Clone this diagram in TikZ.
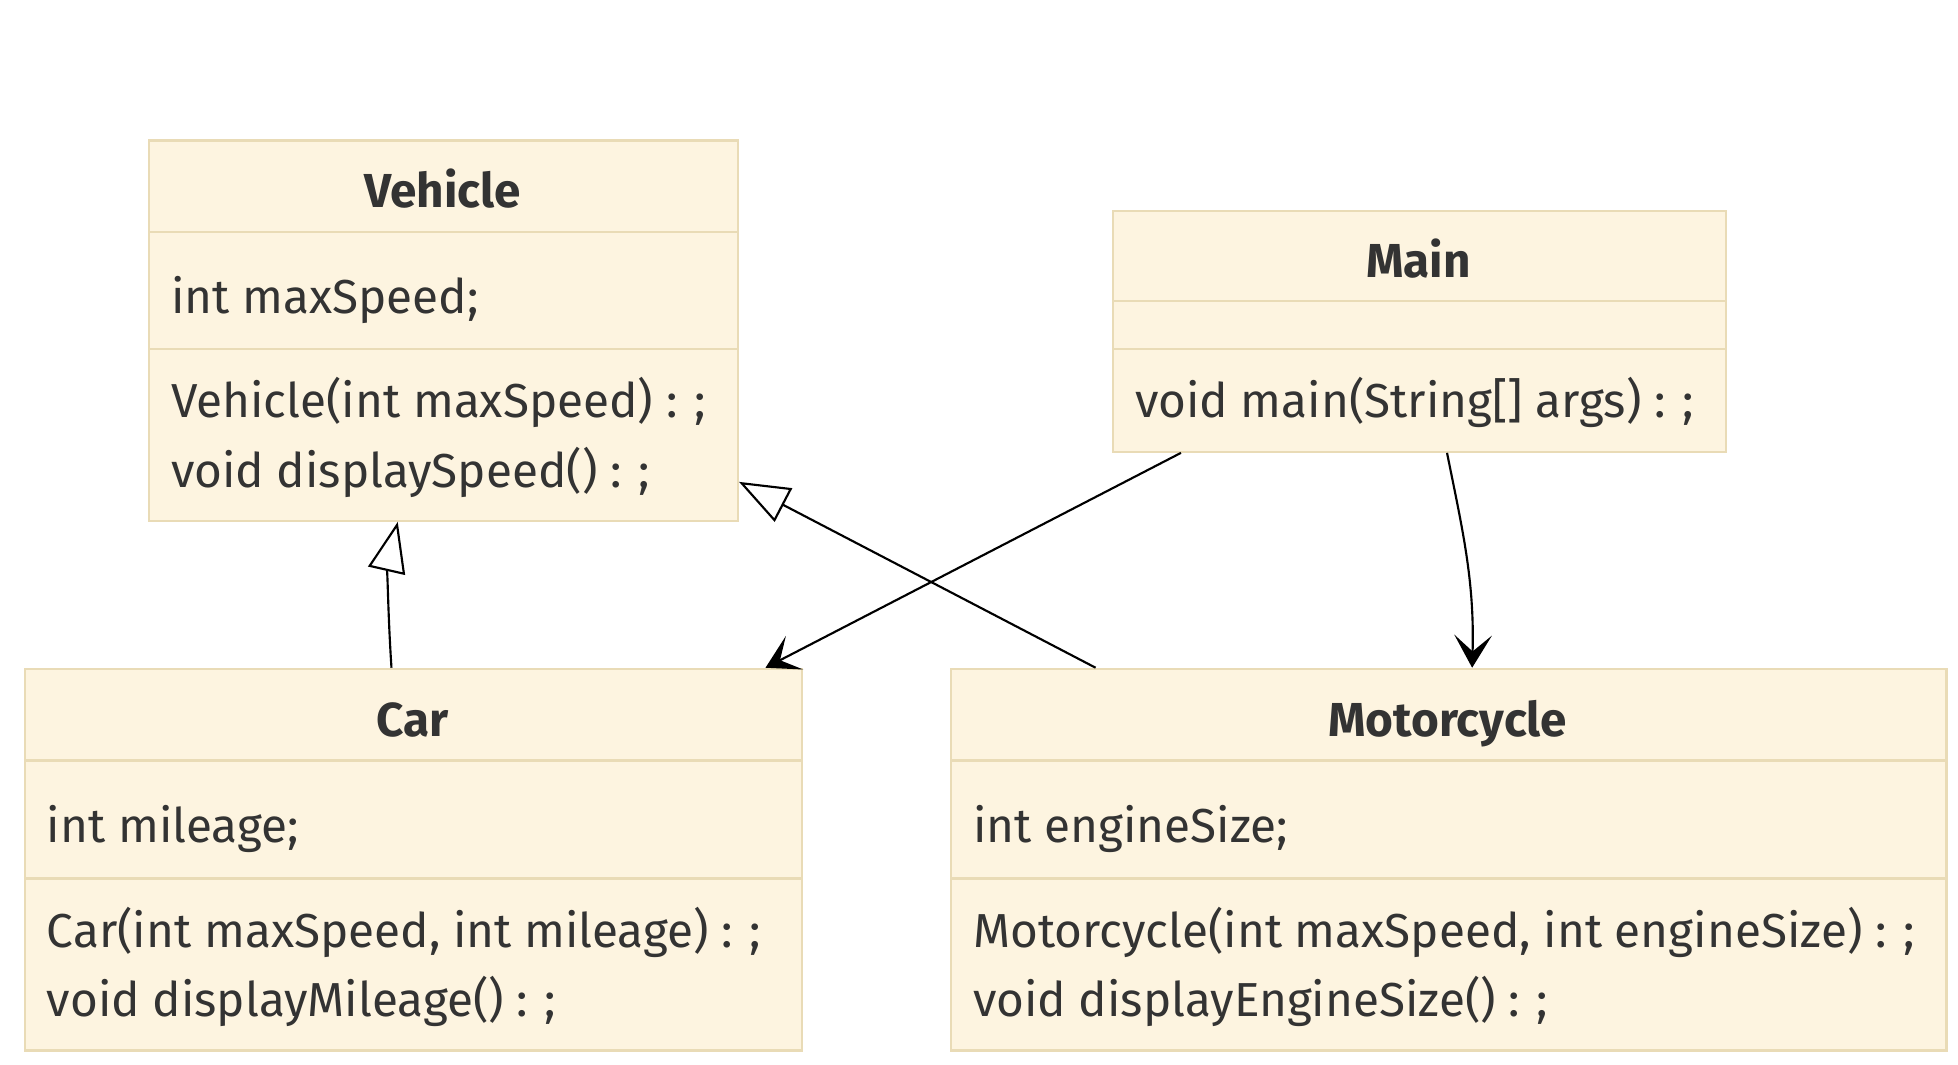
\documentclass[tikz,border=0pt]{standalone}
\usepackage{fontspec}
\setmainfont{Fira Sans}
\usetikzlibrary{arrows.meta, positioning}

\definecolor{classfill}{HTML}{FDF4E0}
\definecolor{classline}{HTML}{E9DBB6}
\definecolor{classtext}{HTML}{333333}

\begin{document}
\begin{tikzpicture}[
    x=0.5pt, y=-0.5pt,
    classbox/.style = {
      draw=classline, fill=classfill, line width=0.9pt,
      anchor=north west, inner sep=0pt
    },
    divider/.style  = {draw=classline, line width=0.9pt},
    classname/.style = {font=\fontsize{19}{23}\selectfont\bfseries,
      text=classtext, anchor=base, inner sep=0pt},
    member/.style   = {font=\fontsize{19}{23}\selectfont,
      text=classtext, anchor=base west, inner sep=0pt},
    inherit/.style  = {-{Triangle[fill=white, length=20pt, width=15pt]},
      line width=0.85pt},
    assoc/.style    = {-{Stealth[length=13pt, width=15pt, inset=6.5pt]},
      line width=0.85pt}
  ]

    \useasboundingbox (0,0) rectangle (1560,848);

    % Vehicle
    \node[classbox, minimum width=234.5pt, minimum height=151.5pt]
      (vehicle) at (118,111) {};
    \draw[divider] (vehicle.north west) ++(0,74) -- ++(469,0);
    \draw[divider] (vehicle.north west) ++(0,167) -- ++(469,0);
    \node[classname] (vehicleName) at (352.5,165) {Vehicle};
    \node[member] (vehicleAttr) at (136,250) {int maxSpeed;};
    \node[member] (vehicleCtor) at (136,333) {Vehicle(int maxSpeed) : ;};
    \node[member] (vehicleShow) at (136,388) {void displaySpeed() : ;};

    % Main
    \node[classbox, minimum width=244pt, minimum height=96pt]
      (main) at (886,167) {};
    \draw[divider] (main.north west) ++(0,73) -- ++(488,0);
    \draw[divider] (main.north west) ++(0,111) -- ++(488,0);
    \node[classname] (mainName) at (1130,221) {Main};
    \node[member] (mainRun) at (904,333) {void main(String[] args) : ;};

    % Car
    \node[classbox, minimum width=309.5pt, minimum height=152pt]
      (car) at (19,532) {};
    \draw[divider] (car.north west) ++(0,74) -- ++(619,0);
    \draw[divider] (car.north west) ++(0,168) -- ++(619,0);
    \node[classname] (carName) at (328.5,587) {Car};
    \node[member] (carAttr) at (37,671) {int mileage;};
    \node[member] (carCtor) at (37,755) {Car(int maxSpeed, int mileage) : ;};
    \node[member] (carShow) at (37,810) {void displayMileage() : ;};

    % Motorcycle
    \node[classbox, minimum width=396.5pt, minimum height=152pt]
      (moto) at (757,532) {};
    \draw[divider] (moto.north west) ++(0,74) -- ++(793,0);
    \draw[divider] (moto.north west) ++(0,168) -- ++(793,0);
    \node[classname] (motoName) at (1153.5,587) {Motorcycle};
    \node[member] (motoAttr) at (775,671) {int engineSize;};
    \node[member] (motoCtor) at (775,755)
      {Motorcycle(int maxSpeed, int engineSize) : ;};
    \node[member] (motoShow) at (775,810) {void displayEngineSize() : ;};

    % relations
    \draw[inherit]
      ([xshift=-8.75pt]car.north) .. controls +(-3,-45) and +(-8,35) ..
      ([xshift=-18.25pt]vehicle.south);
    \draw[inherit]
      ([xshift=-140.75pt]moto.north) -- ([yshift=-60.25pt]vehicle.east);
    \draw[assoc]
      ([xshift=-95pt]main.south) -- ([xshift=140.25pt]car.north);
    \draw[assoc]
      ([xshift=11pt]main.south) .. controls +(12,60) and +(2,-70) ..
      ([xshift=9.25pt]moto.north);

  \end{tikzpicture}
\end{document}
